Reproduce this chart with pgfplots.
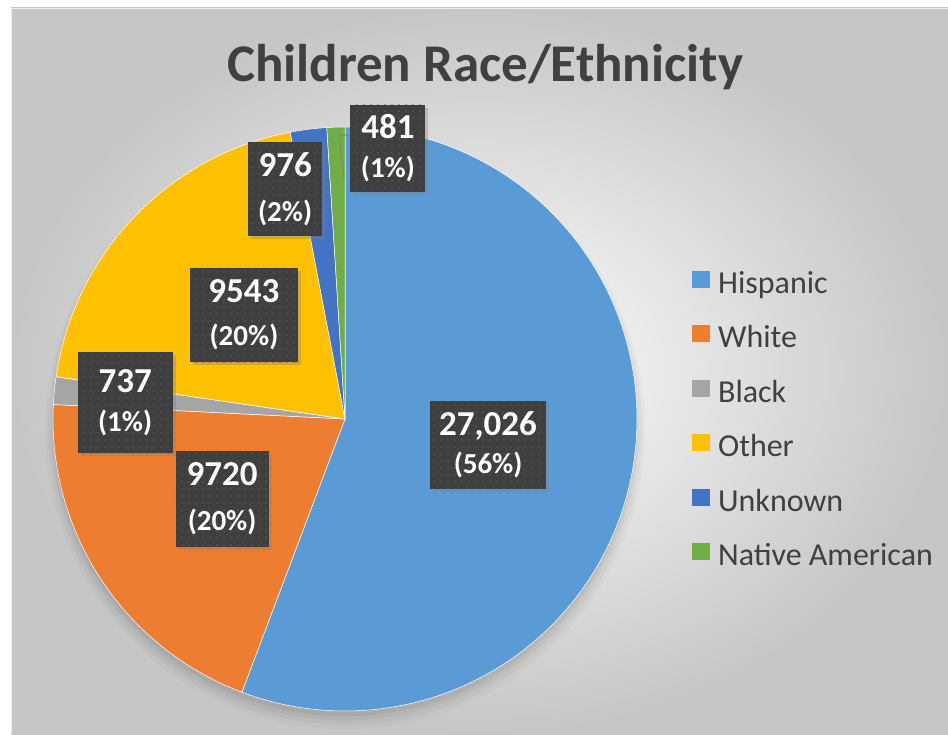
\documentclass[border=0pt]{standalone}
\usepackage{pgfplots}
\pgfplotsset{compat=1.18}
\usepackage{pgfplotstable}
\usepackage{fontspec}
\setmainfont{Carlito}
\usetikzlibrary{patterns.meta,shadows}

\definecolor{cHisp}{HTML}{5B9BD5}
\definecolor{cWhite}{HTML}{ED7D31}
\definecolor{cBlack}{HTML}{A5A5A5}
\definecolor{cOther}{HTML}{FFC000}
\definecolor{cUnk}{HTML}{4472C4}
\definecolor{cNat}{HTML}{70AD47}
\definecolor{tc}{HTML}{404040}
\definecolor{lbox}{HTML}{3F3F3F}
\definecolor{ldot}{HTML}{5A5A5A}
\definecolor{bgout}{HTML}{C6C6C6}

\pgfplotstableread{
name value
Hispanic 27026
White 9720
Black 737
Other 9543
Unknown 976
Native 481
}\piedata

\pgfplotstablegetelem{0}{value}\of\piedata \let\vA\pgfplotsretval
\pgfplotstablegetelem{1}{value}\of\piedata \let\vB\pgfplotsretval
\pgfplotstablegetelem{2}{value}\of\piedata \let\vC\pgfplotsretval
\pgfplotstablegetelem{3}{value}\of\piedata \let\vD\pgfplotsretval
\pgfplotstablegetelem{4}{value}\of\piedata \let\vE\pgfplotsretval
\pgfplotstablegetelem{5}{value}\of\piedata \let\vF\pgfplotsretval
\edef\tot{\fpeval{\vA+\vB+\vC+\vD+\vE+\vF}}
\def\aA{90}
\edef\aB{\fpeval{\aA-360*\vA/\tot}}
\edef\aC{\fpeval{\aB-360*\vB/\tot}}
\edef\aD{\fpeval{\aC-360*\vC/\tot}}
\edef\aE{\fpeval{\aD-360*\vD/\tot}}
\edef\aF{\fpeval{\aE-360*\vE/\tot}}
\edef\aG{\fpeval{\aF-360*\vF/\tot}}

\tikzset{
  lbl/.style={drop shadow={shadow xshift=3pt,shadow yshift=-3pt,opacity=0.35},
    preaction={fill=lbox}, pattern={Dots[distance=7pt,radius=0.9pt]}, pattern color=ldot,
    inner sep=0pt, text=white, align=center}
}
% x, y (axis cs), width, height, number, percent, line gap
\newcommand\lbl[7]{\node[lbl,minimum width=#3pt,minimum height=#4pt,
   font={\fontsize{35}{#7}\selectfont\bfseries}] at (axis cs:#1,#2)
  {#5\\\fontsize{29}{#7}\selectfont #6};}

\begin{document}
\begin{tikzpicture}
\useasboundingbox (0,0) rectangle (948pt,734pt);
\fill[white] (0,0) rectangle (948pt,734pt);
\shade[inner color=white, outer color=bgout] (11pt,0) rectangle (948pt,726pt);
\draw[white!85!gray, line width=0.8pt] (11pt,0) -- (11pt,726pt) -- (948pt,726pt);
\node[text=tc, font=\fontsize{53}{60}\selectfont\bfseries, anchor=base] at (485pt,652pt) {Children Race/Ethnicity};
\begin{axis}[
  at={(345pt,315pt)}, anchor=center,
  scale only axis, width=584pt, height=584pt,
  xmin=-1, xmax=1, ymin=-1, ymax=1,
  hide axis, clip=false,
  legend style={at={(1.094,0.495)}, anchor=west, draw=none, fill=none,
    font=\fontsize{32}{36}\selectfont, text=tc, inner sep=0pt, row sep=25pt, column sep=8pt,
    nodes={inner sep=0pt, text height=22pt, text depth=7pt}},
  legend cell align=left,
  legend image code/.code={\fill[#1,draw=none] (0pt,-2pt) rectangle (18pt,15pt);},
]
% soft shadow of the pie
\fill[black,opacity=0.025] (axis cs:0,-0.035) circle[radius=300pt];
\fill[black,opacity=0.03] (axis cs:0,-0.03) circle[radius=297pt];
\fill[black,opacity=0.04] (axis cs:0,-0.025) circle[radius=294pt];
\fill[black,opacity=0.05] (axis cs:0,-0.018) circle[radius=292pt];
\addplot[fill=cHisp, draw=white, line width=0.5pt, domain=\aB:\aA, samples=150] ({cos(x)},{sin(x)}) -- (axis cs:0,0) -- cycle;
\addlegendentry{Hispanic}
\addplot[fill=cWhite, draw=white, line width=0.5pt, domain=\aC:\aB, samples=60] ({cos(x)},{sin(x)}) -- (axis cs:0,0) -- cycle;
\addlegendentry{White}
\addplot[fill=cBlack, draw=white, line width=0.5pt, domain=\aD:\aC, samples=10] ({cos(x)},{sin(x)}) -- (axis cs:0,0) -- cycle;
\addlegendentry{Black}
\addplot[fill=cOther, draw=white, line width=0.5pt, domain=\aE:\aD, samples=60] ({cos(x)},{sin(x)}) -- (axis cs:0,0) -- cycle;
\addlegendentry{Other}
\addplot[fill=cUnk, draw=white, line width=0.5pt, domain=\aF:\aE, samples=10] ({cos(x)},{sin(x)}) -- (axis cs:0,0) -- cycle;
\addlegendentry{Unknown}
\addplot[fill=cNat, draw=white, line width=0.5pt, domain=\aG:\aF, samples=10] ({cos(x)},{sin(x)}) -- (axis cs:0,0) -- cycle;
\addlegendentry{Native American}
% leader line
\draw[gray, line width=1pt] (axis cs:0.02,0.972) -- (axis cs:-0.0205,0.972) -- (axis cs:-0.003,0.825);
% data labels
\lbl{0.147}{0.928}{75}{87}{481}{(1\%)}{39}
\lbl{-0.205}{0.788}{74}{94}{976}{(2\%)}{45}
\lbl{-0.346}{0.356}{108}{94}{9543}{(20\%)}{43}
\lbl{-0.753}{0.055}{95}{101}{737}{(1\%)}{39}
\lbl{-0.421}{-0.274}{93}{96}{9720}{(20\%)}{45}
\lbl{0.490}{-0.089}{116}{88}{27,026}{(56\%)}{38}
\end{axis}
\end{tikzpicture}
\end{document}
